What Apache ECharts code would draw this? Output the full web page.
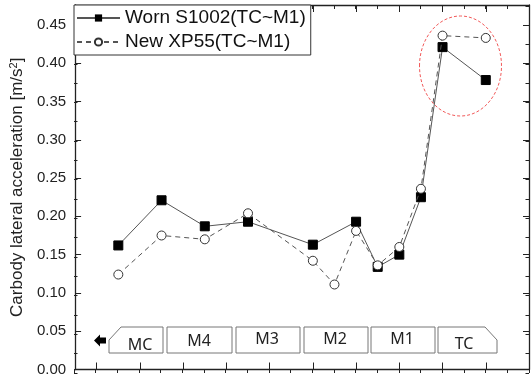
<!DOCTYPE html>
<html>
<head>
<meta charset="utf-8">
<script src="https://cdn.jsdelivr.net/npm/echarts@6/dist/echarts.min.js"></script>
<style>
  html, body { margin: 0; padding: 0; background: #fff; }
  #chart-container { width: 531px; height: 377px; }
</style>
</head>
<body>
<div id="chart-container"></div>
<script>
var dom = document.getElementById('chart-container');
var myChart = echarts.init(dom, null, { renderer: 'canvas' });

// 数据
const wornX = [2, 4, 6, 8, 11, 13, 14, 15, 16, 17, 19];
const wornY = [0.162, 0.221, 0.187, 0.193, 0.163, 0.193, 0.134, 0.150, 0.225, 0.421, 0.378];
const newX = [2, 4, 6, 8, 11, 12, 13, 14, 15, 16, 17, 19];
const newY = [0.124, 0.175, 0.170, 0.204, 0.142, 0.111, 0.181, 0.136, 0.160, 0.236, 0.436, 0.433];
const seriesNames = ['Worn S1002(TC~M1)', 'New XP55(TC~M1)'];
const yMajor = [0, 0.05, 0.10, 0.15, 0.20, 0.25, 0.30, 0.35, 0.40, 0.45];
const xMajor = [1, 3, 5, 7, 9, 11, 13, 15, 17, 19];
const carNames = ['MC', 'M4', 'M3', 'M2', 'M1', 'TC'];

const AXIS_COLOR = '#222';
const FONT = 'Liberation Sans, Arial, sans-serif';
const GRID = { left: 74, top: 5, width: 455, height: 368 };

function pairs(xs, ys) {
  return xs.map((x, i) => [x, ys[i]]);
}

// grid 0 画主刻度和轴线，grid 1 只画次刻度
function xAxisDef(grid, pos, major) {
  return {
    type: 'value', gridIndex: grid, position: pos, min: 0, max: 21,
    interval: major ? undefined : 1,
    axisLine: { show: major, onZero: false, lineStyle: { color: AXIS_COLOR, width: 1.3 } },
    axisTick: major
      ? { show: true, inside: true, length: 7, customValues: xMajor, lineStyle: { color: AXIS_COLOR } }
      : { show: true, inside: true, length: 4, lineStyle: { color: AXIS_COLOR } },
    axisLabel: { show: false },
    splitLine: { show: false }
  };
}

function yAxisDef(grid, pos, major, labels) {
  return {
    type: 'value', gridIndex: grid, position: pos, min: 0, max: 0.476,
    interval: major ? undefined : 0.025,
    axisLine: { show: major, onZero: false, lineStyle: { color: AXIS_COLOR, width: 1.3 } },
    axisTick: major
      ? { show: true, inside: true, length: 6, customValues: yMajor, lineStyle: { color: AXIS_COLOR } }
      : { show: true, inside: true, length: 3.5, lineStyle: { color: AXIS_COLOR } },
    axisLabel: labels
      ? { show: true, customValues: yMajor, margin: 9, fontSize: 15, fontFamily: FONT, color: AXIS_COLOR,
          formatter: v => v.toFixed(2) }
      : { show: false },
    splitLine: { show: false }
  };
}

// 车厢示意框
const carBoxes = [
  [[109, 340], [121, 327], [163, 327], [163, 353], [109, 353]],
  [[167, 327], [232, 327], [232, 353], [167, 353]],
  [[236, 327], [300, 327], [300, 353], [236, 353]],
  [[304, 327], [368, 327], [368, 353], [304, 353]],
  [[371, 327], [435, 327], [435, 353], [371, 353]],
  [[438, 327], [485, 327], [497, 340], [497, 353], [438, 353]]
];
const carTextPos = [[140, 345], [199, 341], [267, 339], [335, 339], [402, 339], [464, 344]];

const graphics = [];
carBoxes.forEach((pts, i) => {
  graphics.push({
    type: 'polygon', shape: { points: pts }, z: 10,
    style: { fill: '#fff', stroke: '#777', lineWidth: 1 }
  });
  graphics.push({
    type: 'text', x: carTextPos[i][0], y: carTextPos[i][1], z: 11,
    style: { text: carNames[i], fill: '#222', font: '16px "Noto Sans", sans-serif',
             textAlign: 'center', textVerticalAlign: 'middle' }
  });
});
// 行驶方向箭头
graphics.push({
  type: 'polygon', z: 10,
  shape: { points: [[94, 340.5], [100, 334.5], [100, 337.5], [106, 337.5], [106, 343.5], [100, 343.5], [100, 346.5]] },
  style: { fill: '#000' }
});
// 红色虚线椭圆
graphics.push({
  type: 'ellipse', z: 12,
  shape: { cx: 460.5, cy: 66, rx: 41, ry: 50 },
  style: { fill: 'none', stroke: '#f25a5a', lineWidth: 1, lineDash: [3, 2] }
});

var option = {
  animation: false,
  backgroundColor: '#fff',
  grid: [GRID, GRID],
  legend: {
    orient: 'vertical', left: 74, top: 5,
    padding: [2, 5, 2, 2], itemGap: 2,
    itemWidth: 43, itemHeight: 9,
    backgroundColor: '#fff', borderColor: '#333', borderWidth: 1, borderRadius: 0,
    textStyle: { fontSize: 19, fontFamily: FONT, color: '#111', lineHeight: 22 },
    data: seriesNames, z: 20
  },
  xAxis: [
    xAxisDef(0, 'bottom', true),
    xAxisDef(0, 'top', true),
    xAxisDef(1, 'bottom', false),
    xAxisDef(1, 'top', false)
  ],
  yAxis: [
    Object.assign(yAxisDef(0, 'left', true, true), {
      name: 'Carbody lateral acceleration [m/s{sup|2}]',
      nameLocation: 'middle', nameGap: 47, nameRotate: 90,
      nameTextStyle: { fontSize: 17, fontFamily: FONT, color: AXIS_COLOR,
                       rich: { sup: { fontSize: 11, fontFamily: FONT, color: AXIS_COLOR, verticalAlign: 'top', padding: [0, 0, 8, 0] } } }
    }),
    yAxisDef(0, 'right', true, false),
    yAxisDef(1, 'left', false, false),
    yAxisDef(1, 'right', false, false)
  ],
  graphic: graphics,
  series: [
    {
      name: seriesNames[0], type: 'line', xAxisIndex: 0, yAxisIndex: 0,
      data: pairs(wornX, wornY),
      symbol: 'rect', symbolSize: 9,
      lineStyle: { color: '#555', width: 1 },
      itemStyle: { color: '#000', borderColor: '#000' },
      z: 5
    },
    {
      name: seriesNames[1], type: 'line', xAxisIndex: 0, yAxisIndex: 0,
      data: pairs(newX, newY),
      symbol: 'circle', symbolSize: 9,
      lineStyle: { color: '#555', width: 1, type: [5, 4] },
      itemStyle: { color: '#fff', borderColor: '#333', borderWidth: 1 },
      z: 6
    }
  ]
};

myChart.setOption(option);
window.addEventListener('resize', myChart.resize);
</script>
</body>
</html>
